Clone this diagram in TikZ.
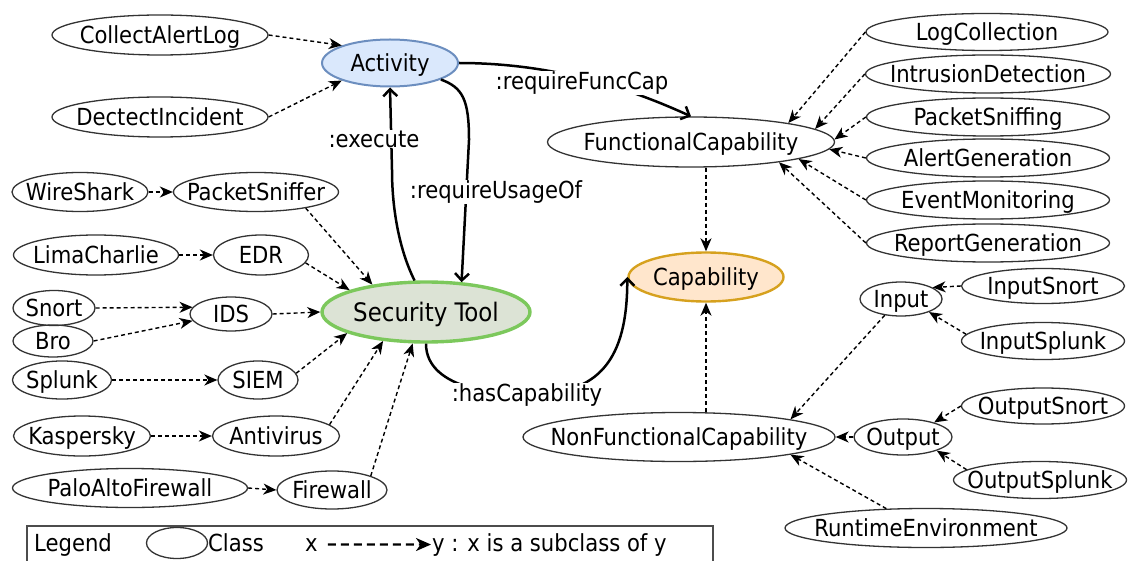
\documentclass[tikz,border=0pt]{standalone}
\usepackage{fontspec}
\IfFontExistsTF{DejaVu Sans Condensed}{\setmainfont{DejaVu Sans Condensed}}{\setmainfont{DejaVu Sans}[FakeStretch=0.9]}
\usetikzlibrary{shapes.geometric,arrows.meta,calc}
\definecolor{actfill}{HTML}{DAE8FC}
\definecolor{actdraw}{HTML}{6C8EBF}
\definecolor{stfill}{HTML}{DCE3D5}
\definecolor{stdraw}{HTML}{7CC85C}
\definecolor{capfill}{HTML}{FFE6CC}
\definecolor{capdraw}{HTML}{D6A11E}
\newcommand\ctext[1]{\makebox[0pt]{\smash{\raisebox{-0.36em}{#1}}}}
\tikzset{
  cls/.style 2 args={ellipse, draw=black!80, line width=1.3pt, inner sep=0pt,
    minimum width=#1pt, minimum height=#2pt, font=\fontsize{23.5}{26}\selectfont},
  sub/.style={-{Stealth[length=13pt,width=11pt,inset=4pt]}, dash pattern=on 4pt off 3pt,
    line width=1.4pt, draw=black},
  legsub/.style={-{Stealth[length=15pt,width=13pt,inset=4.5pt]}, dash pattern=on 8pt off 5pt,
    line width=2.2pt, draw=black},
  rel/.style={-{Straight Barb[length=7pt,width=14pt]}, line width=2.5pt},
  lbl/.style={fill=white, inner sep=1pt, font=\fontsize{23.5}{26}\selectfont},
  legtxt/.style={inner sep=0pt, anchor=base west, font=\fontsize{23.5}{26}\selectfont},
}
\begin{document}
\begin{tikzpicture}[x=1pt,y=-1pt]
\useasboundingbox (0,0) rectangle (1131,561);
% central classes
\node[cls={136}{47}, fill=actfill, draw=actdraw, line width=2pt] (act) at (390,63) {\ctext{Activity}};
\node[cls={208}{60}, fill=stfill, draw=stdraw, line width=3.4pt, font=\fontsize{25.5}{28}\selectfont] (st) at (426,312) {\ctext{Security Tool}};
\node[cls={287}{50}] (fc) at (691,142) {\ctext{FunctionalCapability}};
\node[cls={155}{49}, fill=capfill, draw=capdraw, line width=2.4pt] (cap) at (706,277) {\ctext{Capability}};
\node[cls={312}{49}] (nfc) at (679,437) {\ctext{NonFunctionalCapability}};
% activities
\node[cls={216}{40}] (cal) at (160,35) {\ctext{CollectAlertLog}};
\node[cls={216}{40}] (di) at (160,117) {\ctext{DectectIncident}};
% tools
\node[cls={136}{39}] (ws) at (80,192) {\ctext{WireShark}};
\node[cls={165}{39}] (ps) at (256,192) {\ctext{PacketSniffer}};
\node[cls={165}{40}] (lc) at (96,255) {\ctext{LimaCharlie}};
\node[cls={95}{40}] (edr) at (261,255) {\ctext{EDR}};
\node[cls={82}{35}] (snort) at (54,308) {\ctext{Snort}};
\node[cls={82}{34}] (ids) at (231,314) {\ctext{IDS}};
\node[cls={80}{32}] (bro) at (53,341) {\ctext{Bro}};
\node[cls={99}{38}] (splunk) at (62,380) {\ctext{Splunk}};
\node[cls={80}{38}] (siem) at (258,380) {\ctext{SIEM}};
\node[cls={137}{40}] (kasp) at (82,436) {\ctext{Kaspersky}};
\node[cls={127}{40}] (av) at (276,436) {\ctext{Antivirus}};
\node[cls={235}{39}] (palo) at (130,488) {\ctext{PaloAltoFirewall}};
\node[cls={110}{38}] (fw) at (332,490) {\ctext{Firewall}};
% functional capabilities
\node[cls={242}{37}] (logc) at (987,32) {\ctext{LogCollection}};
\node[cls={245}{38}] (intr) at (988,74) {\ctext{IntrusionDetection}};
\node[cls={243}{38}] (pks) at (988,117) {\ctext{PacketSniffing}};
\node[cls={243}{38}] (alert) at (988,158) {\ctext{AlertGeneration}};
\node[cls={243}{38}] (event) at (988,200) {\ctext{EventMonitoring}};
\node[cls={243}{38}] (report) at (988,243) {\ctext{ReportGeneration}};
% non functional
\node[cls={82}{34}] (inp) at (901,299) {\ctext{Input}};
\node[cls={163}{35}] (inpsn) at (1043,286) {\ctext{InputSnort}};
\node[cls={163}{37}] (inpsp) at (1043,341) {\ctext{InputSplunk}};
\node[cls={98}{36}] (out) at (903,437) {\ctext{Output}};
\node[cls={163}{36}] (outsn) at (1043,406) {\ctext{OutputSnort}};
\node[cls={173}{37}] (outsp) at (1040,480) {\ctext{OutputSplunk}};
\node[cls={282}{39}] (rt) at (926,528) {\ctext{RuntimeEnvironment}};
% subclass edges, left
\draw[sub] (cal.east) -- (act.160);
\draw[sub] (di.east) -- (act.200);
\draw[sub] (ws.east) -- (ps.west);
\draw[sub] (ps.-18) -- (st.153);
\draw[sub] (lc.east) -- (edr.west);
\draw[sub] (edr.-10) -- (st.164);
\draw[sub] (snort.east) -- (ids.170);
\draw[sub] (bro.east) -- (ids.190);
\draw[sub] (ids.east) -- (st.west);
\draw[sub] (splunk.east) -- (siem.west);
\draw[sub] (siem.10) -- (st.195);
\draw[sub] (kasp.east) -- (av.west);
\draw[sub] (av.12) -- (st.214);
\draw[sub] (palo.east) -- (fw.west);
\draw[sub] (fw.20) -- (st.247);
% subclass edges, right
\draw[sub] (logc.west) -- (fc.11);
\draw[sub] (intr.west) -- (fc.6);
\draw[sub] (pks.west) -- (fc.1);
\draw[sub] (alert.west) -- (fc.-3);
\draw[sub] (event.west) -- (fc.-9);
\draw[sub] (report.west) -- (fc.-13);
\draw[sub] (fc.south -| cap.north) -- (cap.north);
\draw[sub] (nfc.north -| cap.south) -- (cap.south);
\draw[sub] (inpsn.west) -- (inp.20);
\draw[sub] (inpsp.175) -- (inp.-25);
\draw[sub] (inp.225) -- (nfc.9);
\draw[sub] (out.west) -- (nfc.east);
\draw[sub] (outsn.west) -- (out.25);
\draw[sub] (outsp.172) -- (out.-22);
\draw[sub] (rt.154) -- (nfc.-9);
% relations
\draw[rel] (act.east) .. controls +(110,0) and +(-40,-18) .. (fc.north);
\draw[rel] (act.-18) .. controls +(22,8) and +(0,-40) .. (469,140) -- (st.40);
\draw[rel] (st.110) .. controls +(-15,-30) and +(0,40) .. (392,170) -- (act.south);
\draw[rel] (st.south) .. controls +(0,48) and +(-20,0) .. (527,395)
  .. controls +(73,0) and +(0,82) .. (cap.west);
\node[lbl] (rfc) at (582,83) {:requireFuncCap};
\node[lbl] (rus) at (496,192) {:requireUsageOf};
\node[lbl] (exe) at (374,139) {:execute};
\node[lbl] (hc) at (527,395) {:hasCapability};
% legend
\draw[line width=1.2pt, draw=black!70] (27,563) -- (27,526) -- (713,526) -- (713,563);
\node[legtxt] (legt) at (34,551) {Legend};
\node[cls={61}{31}] (legc) at (177,543) {};
\node[legtxt] (legcl) at (208,551) {Class};
\node[legtxt] (lx) at (305,551) {x};
\node[legtxt] (ly) at (432,551) {y : x is a subclass of y};
\draw[legsub] ([xshift=10pt]lx.east) -- ([xshift=-1pt]ly.west);
\end{tikzpicture}
\end{document}
